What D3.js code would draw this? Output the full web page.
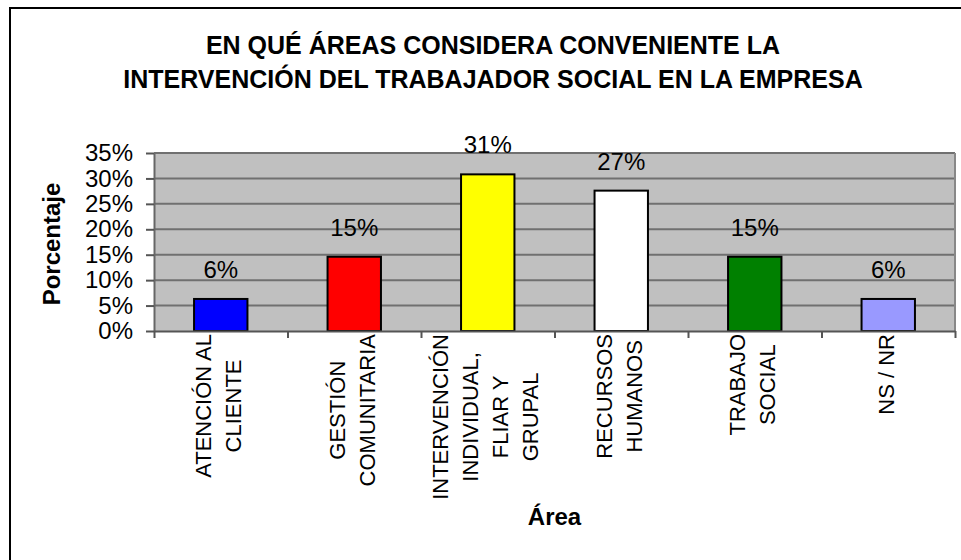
<!DOCTYPE html>
<html>
<head>
<meta charset="utf-8">
<script src="https://cdn.jsdelivr.net/npm/d3@7"></script>
<style>
body{margin:0;background:#fff;}
svg text{font-family:"Liberation Sans",Arial,sans-serif;}
</style>
</head>
<body>
<script>
// size of window
var width = 961;
var height = 560;

// data
var areas = ["ATENCIÓN AL\nCLIENTE", "GESTIÓN\nCOMUNITARIA", "INTERVENCIÓN\nINDIVIDUAL,\nFLIAR Y\nGRUPAL",
             "RECURSOS\nHUMANOS", "TRABAJO\nSOCIAL", "NS / NR"];
var porcentajes = [6.3, 14.6, 30.8, 27.6, 14.6, 6.3];
var etiquetas = ["6%", "15%", "31%", "27%", "15%", "6%"];
var yTicks = [0, 5, 10, 15, 20, 25, 30, 35];
var titulo = ["EN QUÉ ÁREAS CONSIDERA CONVENIENTE LA", "INTERVENCIÓN DEL TRABAJADOR SOCIAL EN LA EMPRESA"];

var colores = ["#0000ff", "#ff0000", "#ffff00", "#ffffff", "#008000", "#9999ff"];

// plot area
var plot = {left:154, top:153, right:955, bottom:331};

var svg = d3.select("body").append("svg").attr("width", width).attr("height", height);

// outer chart border (runs off the picture to the right and bottom)
svg.append("rect")
  .attr("x", 10).attr("y", 8).attr("width", 1000).attr("height", 600)
  .attr("fill", "#fff").attr("stroke", "#000").attr("stroke-width", 2);

var x = d3.scaleBand()
  .domain(d3.range(areas.length))
  .range([plot.left, plot.right])
  .paddingInner(0.6)
  .paddingOuter(0.3);

var xEdge = d3.scaleLinear().domain([0, areas.length]).range([plot.left, plot.right]);

var y = d3.scaleLinear().domain([0, 35]).range([plot.bottom, plot.top]);

// background
svg.append("rect")
  .attr("x", plot.left).attr("y", plot.top)
  .attr("width", plot.right - plot.left).attr("height", plot.bottom - plot.top)
  .attr("fill", "#c0c0c0");

// gridlines
svg.append("g").selectAll("line")
  .data(yTicks.filter(function(d){ return d > 0; }))
  .enter().append("line")
  .attr("x1", plot.left).attr("x2", plot.right)
  .attr("y1", function(d){ return y(d); }).attr("y2", function(d){ return y(d); })
  .attr("stroke", "#707070").attr("stroke-width", 2);

svg.append("line")
  .attr("x1", plot.right).attr("x2", plot.right)
  .attr("y1", plot.top).attr("y2", plot.bottom)
  .attr("stroke", "#888").attr("stroke-width", 2);

// bars
svg.append("g").selectAll("rect")
  .data(porcentajes)
  .enter().append("rect")
  .attr("x", function(d, i){ return x(i); })
  .attr("y", function(d){ return y(d); })
  .attr("width", x.bandwidth())
  .attr("height", function(d){ return y(0) - y(d); })
  .attr("fill", function(d, i){ return colores[i]; })
  .attr("stroke", "#000").attr("stroke-width", 2);

// y axis
var yAxis = svg.append("g")
  .attr("transform", "translate(" + plot.left + ",0)")
  .call(d3.axisLeft(y).tickValues(yTicks).tickFormat(function(d){ return d + "%"; })
        .tickSize(8).tickPadding(13).tickSizeOuter(0));
yAxis.selectAll("text").attr("font-size", 24).attr("font-family", "Liberation Sans, Arial, sans-serif").attr("fill", "#000");
yAxis.selectAll("line").attr("stroke", "#555").attr("stroke-width", 2);
yAxis.select(".domain").attr("stroke", "#666").attr("stroke-width", 2);

// x axis, ticks between categories
var xAxis = svg.append("g")
  .attr("transform", "translate(0," + plot.bottom + ")")
  .call(d3.axisBottom(xEdge).tickValues(d3.range(areas.length + 1)).tickFormat("")
        .tickSize(7).tickSizeOuter(0));
xAxis.selectAll("line").attr("stroke", "#555").attr("stroke-width", 2);
xAxis.select(".domain").attr("stroke", "#555").attr("stroke-width", 2);

// value labels
svg.append("g").selectAll("text")
  .data(porcentajes)
  .enter().append("text")
  .attr("x", function(d, i){ return x(i) + x.bandwidth() / 2; })
  .attr("y", function(d){ return y(d) - 21; })
  .attr("text-anchor", "middle")
  .attr("font-size", 24)
  .text(function(d, i){ return etiquetas[i]; });

// category labels, rotated, lines centred on each other
var catG = svg.append("g");
areas.forEach(function(a, i){
  var lines = a.split("\n");
  var g = catG.append("g");
  var t = g.selectAll("text").data(lines).enter().append("text")
    .attr("font-size", 22)
    .attr("text-anchor", "middle")
    .attr("dominant-baseline", "central")
    .attr("y", function(d, j){ return (j - (lines.length - 1) / 2) * 30; })
    .text(function(d){ return d; });
  var maxLen = d3.max(t.nodes(), function(n){ return n.getComputedTextLength(); });
  var cx = x(i) + x.bandwidth() / 2 - 2;
  var cy = plot.bottom + 3 + maxLen / 2;
  g.attr("transform", "translate(" + cx + "," + cy + ") rotate(-90)");
});

// axis titles
svg.append("text")
  .attr("transform", "translate(60,244) rotate(-90)")
  .attr("text-anchor", "middle")
  .attr("font-size", 24).attr("font-weight", "bold")
  .text("Porcentaje");

svg.append("text")
  .attr("x", (plot.left + plot.right) / 2).attr("y", 525)
  .attr("text-anchor", "middle")
  .attr("font-size", 24).attr("font-weight", "bold")
  .text("Área");

// title
svg.append("g").selectAll("text")
  .data(titulo)
  .enter().append("text")
  .attr("x", 493)
  .attr("y", function(d, i){ return 54 + i * 34; })
  .attr("text-anchor", "middle")
  .attr("font-size", 25).attr("font-weight", "bold")
  .text(function(d){ return d; });
</script>
</body>
</html>
